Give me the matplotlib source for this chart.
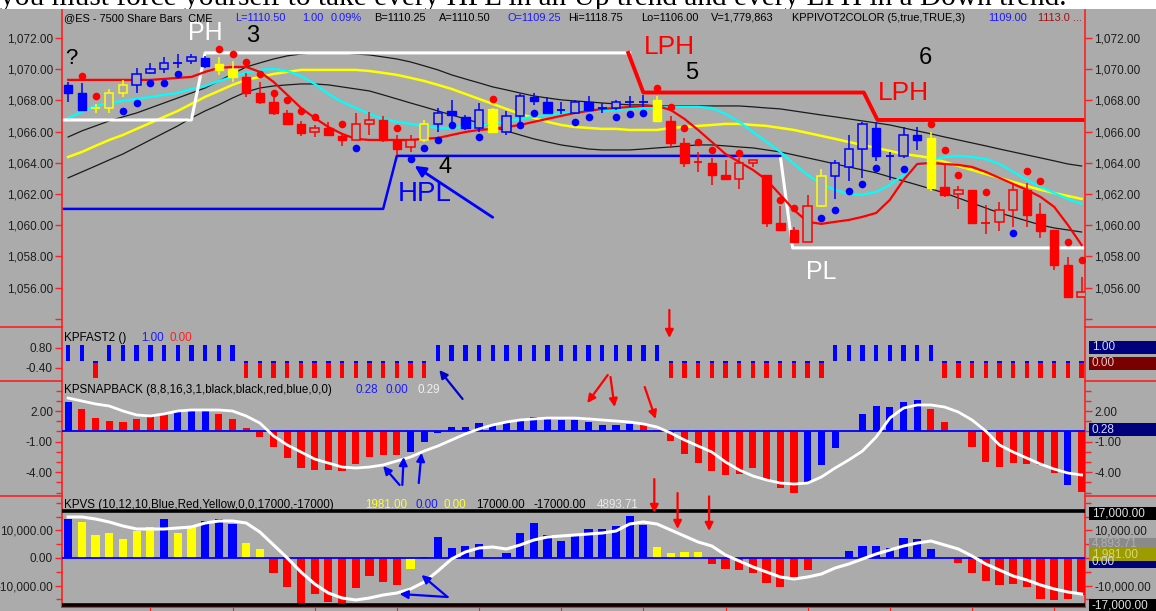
import matplotlib
matplotlib.use("Agg")
import matplotlib.pyplot as plt
import matplotlib.transforms as mtransforms
from matplotlib.patches import Rectangle, ConnectionPatch

plt.rcParams['font.family'] = ['Liberation Sans', 'DejaVu Sans']

# ---------------- data ----------------
bars = list(range(75))

candle_color = list("BBYYYBBBBBBYYRRRRRRRRRRRRRYBBBBYBBBBBBBBBBBYRRRRRRRRRRRYBBBBBBBYRRRRRRRRRRR")
c_open = [1069.0, 1068.5, 1067.5, 1067.5, 1068.5, 1069.0, 1069.75, 1070.0, 1070.4, 1070.5,
          1070.7, 1070.3, 1070.0, 1069.5, 1068.5, 1067.9, 1067.2, 1066.5, 1066.0, 1066.2,
          1065.7, 1065.45, 1066.5, 1066.75, 1065.45, 1065.0, 1065.45, 1066.5, 1067.3, 1066.9,
          1066.2, 1067.45, 1066.0, 1067.0, 1068.2, 1067.9, 1067.4, 1067.2, 1067.9, 1067.5,
          1067.5, 1067.9, 1067.9, 1068.0, 1066.7, 1065.25, 1064.07, 1064.0, 1063.2, 1062.94,
          1064.0, 1063.2, 1060.16, 1059.7, 1058.94, 1061.2, 1063.15, 1063.7, 1064.9, 1066.2,
          1064.4, 1064.4, 1065.8, 1065.6, 1062.47, 1062.0, 1062.26, 1060.16, 1060.2, 1061.0,
          1062.26, 1060.7, 1059.7, 1057.45, 1055.4]
c_high = [1069.2, 1069.1, 1067.75, 1068.7, 1069.3, 1070.1, 1070.4, 1070.8, 1071.0, 1071.0,
          1070.85, 1070.8, 1070.5, 1069.75, 1069.2, 1068.2, 1067.4, 1066.7, 1066.4, 1066.6,
          1065.9, 1067.2, 1067.25, 1067.0, 1065.75, 1065.75, 1066.75, 1067.5, 1068.0, 1067.05,
          1067.8, 1067.5, 1067.3, 1068.4, 1068.5, 1068.2, 1067.9, 1068.0, 1068.25, 1067.8,
          1068.0, 1068.3, 1068.35, 1068.3, 1067.0, 1065.6, 1064.7, 1064.3, 1064.2, 1064.3,
          1064.2, 1063.2, 1061.2, 1059.9, 1061.9, 1063.6, 1064.2, 1065.8, 1066.6, 1066.6,
          1064.7, 1066.3, 1066.3, 1066.0, 1064.0, 1062.5, 1062.26, 1061.3, 1061.5, 1062.7,
          1062.7, 1061.45, 1059.7, 1057.95, 1056.7]
c_low = [1067.9, 1067.35, 1067.2, 1067.2, 1068.2, 1068.5, 1069.7, 1069.75, 1070.1, 1070.3,
         1070.1, 1069.6, 1069.2, 1068.2, 1067.75, 1067.05, 1066.4, 1065.7, 1065.65, 1065.7,
         1065.1, 1065.45, 1065.8, 1065.3, 1064.5, 1064.7, 1065.3, 1066.0, 1066.35, 1066.1,
         1066.0, 1065.9, 1065.8, 1066.6, 1067.7, 1067.1, 1067.1, 1067.1, 1067.3, 1067.2,
         1067.4, 1067.6, 1067.6, 1066.6, 1064.95, 1063.75, 1063.4, 1062.6, 1062.94, 1062.3,
         1063.7, 1059.9, 1059.7, 1058.94, 1058.94, 1061.15, 1061.7, 1062.8, 1063.0, 1064.1,
         1062.9, 1064.3, 1064.8, 1062.2, 1061.8, 1061.05, 1060.16, 1059.4, 1059.6, 1059.9,
         1059.9, 1059.2, 1057.1, 1055.4, 1055.4]
c_close = [1068.5, 1067.4, 1067.5, 1068.5, 1069.0, 1069.7, 1070.0, 1070.4, 1070.4, 1070.75,
           1070.2, 1069.95, 1069.5, 1068.45, 1067.9, 1067.2, 1066.5, 1065.9, 1066.2, 1065.8,
           1065.45, 1066.5, 1066.75, 1065.45, 1064.9, 1065.45, 1066.5, 1067.2, 1067.05, 1066.2,
           1067.4, 1065.95, 1067.0, 1068.3, 1067.95, 1067.2, 1067.4, 1067.9, 1067.4, 1067.5,
           1067.9, 1067.9, 1067.9, 1066.7, 1065.25, 1064.0, 1064.07, 1063.2, 1062.94, 1064.0,
           1064.2, 1060.16, 1059.7, 1058.94, 1061.2, 1063.15, 1064.0, 1064.9, 1066.5, 1064.4,
           1064.4, 1065.8, 1065.45, 1062.4, 1061.94, 1062.26, 1060.16, 1060.16, 1061.0, 1062.26,
           1060.65, 1059.65, 1057.45, 1055.4, 1055.74]

ma_red = [1069.31] * 7 + [1069.37, 1069.44, 1069.50, 1069.82, 1070.08, 1070.14, 1070.14, 1069.82, 1069.18,
          1068.35, 1067.51, 1066.87, 1066.29, 1065.85, 1065.53, 1065.46, 1065.46, 1065.46, 1065.46,
          1065.53, 1065.59, 1065.78, 1065.97, 1066.10, 1066.17, 1066.29, 1066.42, 1066.62, 1066.81,
          1067.00, 1067.19, 1067.32, 1067.45, 1067.51, 1067.58, 1067.64, 1067.64, 1067.38, 1066.81,
          1066.10, 1065.33, 1064.56, 1064.05, 1063.54, 1062.90, 1061.94, 1060.97, 1060.21, 1060.08,
          1060.21, 1060.33, 1060.53, 1060.78, 1061.62, 1062.90, 1063.92, 1063.99, 1063.92, 1063.86,
          1063.73, 1063.41, 1063.03, 1062.64, 1062.26, 1061.81, 1061.17, 1060.01, 1058.73]
ma_cyan = [1066.87, 1067.26, 1067.64, 1067.83, 1067.96, 1068.09, 1068.22, 1068.35, 1068.47, 1068.73,
           1068.92, 1069.24, 1069.50, 1069.76, 1069.95, 1070.01, 1069.88, 1069.56, 1069.05, 1068.41,
           1067.90, 1067.51, 1067.13, 1066.81, 1066.62, 1066.49, 1066.36, 1066.23, 1066.23, 1066.29,
           1066.36, 1066.49, 1066.68, 1066.81, 1066.94, 1067.06, 1067.19, 1067.26, 1067.32, 1067.32,
           1067.38, 1067.45, 1067.51, 1067.51, 1067.58, 1067.58, 1067.58, 1067.51, 1067.13, 1066.62,
           1065.97, 1065.33, 1064.69, 1063.92, 1063.22, 1062.64, 1062.26, 1062.00, 1061.94, 1062.13,
           1062.58, 1063.22, 1063.79, 1064.18, 1064.37, 1064.44, 1064.37, 1064.24, 1063.92, 1063.41,
           1062.90, 1062.45, 1062.06, 1061.68, 1061.36]
ma_yellow = [1064.37, 1064.69, 1065.08, 1065.46, 1065.78, 1066.17, 1066.55, 1066.94, 1067.32, 1067.77,
             1068.22, 1068.60, 1068.99, 1069.31, 1069.50, 1069.69, 1069.82, 1069.95, 1069.95, 1069.95,
             1069.95, 1069.95, 1069.88, 1069.76, 1069.63, 1069.44, 1069.24, 1068.99, 1068.73, 1068.41,
             1068.09, 1067.77, 1067.45, 1067.13, 1066.87, 1066.62, 1066.42, 1066.29, 1066.23, 1066.17,
             1066.17, 1066.10, 1066.10, 1066.10, 1066.23, 1066.29, 1066.36, 1066.42, 1066.49, 1066.49,
             1066.42, 1066.36, 1066.23, 1066.10, 1065.91, 1065.72, 1065.53, 1065.33, 1065.14, 1064.95,
             1064.76, 1064.56, 1064.44, 1064.31, 1064.05, 1063.79, 1063.54, 1063.28, 1063.03, 1062.77,
             1062.51, 1062.26, 1062.06, 1061.87, 1061.68]
band_upper = [1065.65, 1066.04, 1066.36, 1066.68, 1066.94, 1067.19, 1067.51, 1067.83, 1068.15, 1068.47,
              1068.79, 1069.24, 1069.69, 1070.14, 1070.40, 1070.65, 1070.85, 1070.97, 1071.04, 1071.04,
              1071.04, 1070.97, 1070.91, 1070.78, 1070.65, 1070.46, 1070.21, 1069.95, 1069.63, 1069.37,
              1069.12, 1068.86, 1068.67, 1068.47, 1068.28, 1068.15, 1068.03, 1067.96, 1067.90, 1067.83,
              1067.77, 1067.71, 1067.71, 1067.64, 1067.64, 1067.64, 1067.64, 1067.64, 1067.64, 1067.64,
              1067.58, 1067.51, 1067.45, 1067.32, 1067.19, 1067.06, 1066.94, 1066.81, 1066.68, 1066.55,
              1066.42, 1066.23, 1066.04, 1065.85, 1065.65, 1065.46, 1065.27, 1065.08, 1064.88, 1064.69,
              1064.50, 1064.31, 1064.12, 1063.92, 1063.79]
band_lower = [1063.03, 1063.41, 1063.79, 1064.18, 1064.56, 1065.01, 1065.46, 1065.91, 1066.36, 1066.87,
              1067.32, 1067.71, 1068.15, 1068.54, 1068.79, 1068.92, 1068.99, 1069.05, 1069.05, 1068.99,
              1068.86, 1068.73, 1068.60, 1068.35, 1068.09, 1067.83, 1067.58, 1067.32, 1067.06, 1066.81,
              1066.55, 1066.29, 1066.04, 1065.78, 1065.53, 1065.33, 1065.14, 1065.01, 1064.88, 1064.82,
              1064.82, 1064.82, 1064.88, 1064.95, 1065.01, 1065.08, 1065.14, 1065.14, 1065.08, 1065.01,
              1064.95, 1064.82, 1064.69, 1064.50, 1064.31, 1064.12, 1063.92, 1063.73, 1063.54, 1063.35,
              1063.09, 1062.83, 1062.58, 1062.32, 1062.06, 1061.74, 1061.42, 1061.10, 1060.78, 1060.53,
              1060.27, 1060.01, 1059.82, 1059.69, 1059.56]

red_dot_idx = [1, 2, 11, 12, 13, 14, 15, 16, 17, 18, 20, 24, 31, 43, 44, 45, 46, 47, 49, 52, 53,
               63, 64, 65, 67, 70, 71, 73, 74]
red_dot_val = [1069.56, 1068.3, 1071.27, 1071.0, 1070.48, 1069.67, 1068.5, 1068.0, 1067.3, 1066.95,
               1066.5, 1066.25, 1068.07, 1068.78, 1067.56, 1066.25, 1065.35, 1064.8, 1064.65, 1061.6,
               1061.1, 1066.5, 1064.8, 1063.2, 1062.15, 1063.5, 1062.8, 1058.95, 1057.77]
blue_dot_idx = [4, 5, 6, 7, 8, 21, 25, 26, 27, 28, 30, 33, 34, 37, 38, 40, 41, 42, 55, 56, 57, 58,
                59, 61, 69]
blue_dot_val = [1067.3, 1067.85, 1069.1, 1069.1, 1069.7, 1064.93, 1064.22, 1064.93, 1065.46, 1066.42,
                1065.67, 1066.42, 1067.2, 1066.64, 1066.92, 1066.92, 1067.13, 1067.21, 1060.48, 1060.97,
                1062.19, 1062.64, 1063.65, 1063.58, 1059.48]

# pivot step lines: (bar position, level)
ph_pos = [-0.45, 9.0, 10.0, 41.0]
ph_lvl = [1066.74, 1066.74, 1071.04, 1071.04]
lph_pos = [40.9, 42.0, 58.1, 59.1, 74.3]
lph_lvl = [1071.04, 1068.5, 1068.5, 1066.74, 1066.74]
hpl_pos = [-0.45, 23.0, 24.0, 52.0]
hpl_lvl = [1061.04, 1061.04, 1064.44, 1064.44]
pl_pos = [52.0, 52.9, 74.3]
pl_lvl = [1064.44, 1058.54, 1058.54]

fast_color = list("BBRBBBBBBBBBB" + "R" * 14 + "B" * 17 + "R" * 12 + "B" * 8 + "R" * 11)

snap_val = [2.9, 2.17, 1.28, 1.02, 0.95, 1.19, 1.51, 1.83, 2.03, 2.17,
            2.1, 1.7, 1.19, 0.3, -0.52, -1.56, -2.64, -3.62, -3.78, -3.78,
            -3.85, -3.2, -2.48, -2.31, -2.31, -1.99, -1.0, -0.15, 0.4, 0.4,
            0.85, 0.63, 0.85, 1.19, 1.38, 1.28, 1.12, 1.12, 0.95, 0.63,
            0.63, 0.73, 0.73, 0.14, -0.9, -2.2, -3.07, -3.85, -4.27, -4.17,
            -3.62, -4.76, -5.58, -6.0, -5.09, -3.3, -1.63, 0.05, 1.7, 2.5,
            2.36, 2.9, 3.08, 2.17, 0.95, 0.0, -1.56, -2.97, -3.46, -3.07,
            -3.2, -3.3, -4.1, -5.25, -5.9]
snap_color = list("BRRRRRRRBBBRRRRRRRRRRRRRRBBBBBBBBBBBBBBBBBRRRRRRRRRRRRBBBBBBBBBRRRRRRRRRR")
snap_line = [3.27, 2.98, 2.69, 2.49, 2.0, 1.61, 1.51, 1.71, 2.0, 2.1,
             2.1, 2.1, 2.0, 1.51, 0.82, -0.45, -1.33, -2.02, -2.71, -3.1,
             -3.49, -3.59, -3.49, -3.29, -2.9, -2.51, -1.92, -1.43, -0.84, -0.25,
             0.24, 0.63, 0.92, 1.12, 1.22, 1.31, 1.31, 1.31, 1.22, 1.12,
             1.02, 0.92, 0.73, 0.43, -0.16, -0.84, -1.43, -2.02, -3.0, -3.78,
             -4.37, -4.76, -5.06, -5.16, -5.06, -4.47, -3.59, -2.8, -1.92, -0.55,
             1.31, 2.29, 2.59, 2.59, 2.39, 1.9, 1.12, 0.04, -1.33, -2.02,
             -2.61, -3.2, -3.69, -4.08, -4.27]

vs_val = [14180, 12970, 8360, 9200, 6790, 9940, 11150, 14180, 9200, 11150,
          13580, 14180, 12360, 5330, 3270, -5330, -10670, -17700, -13210, -15880,
          -16480, -11030, -6550, -8610, -9820, -4120, 500, 7520, 3760, 4360,
          5090, 300, 1700, 9200, 12850, 8360, 6300, 8000, 10430, 10430,
          11640, 15270, 12000, 4120, 1700, 2060, 2060, -2300, -4000, -4360,
          -5570, -8970, -10420, -7030, -4360, 0, 0, 2545, 4360, 4360,
          3520, 7150, 6790, 3150, 500, -1700, -5330, -8240, -9820, -9450,
          -10670, -14910, -15270, -14910, -13450]
vs_color = list("BYYYYYYBYYBBBYYRRRRRRRRRRYBBBBBYBBBBBBBBBBBYYYYRRRRRRRRBBBBBBBBBYRRRRRRRRRR")
vs_line = [14910, 14910, 14180, 13090, 11640, 10545, 10545, 10545, 10910, 11270,
           12730, 13450, 13450, 12730, 9450, 4730, 0, -5090, -9450, -12730,
           -14545, -15270, -14545, -13450, -12730, -11270, -8730, -4730, -360, 2180,
           3640, 4000, 3270, 4730, 6545, 7640, 8000, 8360, 8730, 9090,
           9820, 12360, 13090, 12360, 10180, 8000, 5820, 4360, 1090, -1090,
           -3270, -5090, -6910, -7640, -6910, -5820, -3640, -2180, -360, 1450,
           2910, 4360, 5450, 6180, 4730, 3270, 727, -2180, -4360, -6545,
           -8000, -9820, -11270, -12360, -13090]

price_ticks = [1054, 1056, 1058, 1060, 1062, 1064, 1066, 1068, 1070, 1072]
fast_ticks = [0.80, -0.40]
snap_ticks = [2.0, -1.0, -4.0]
vs_ticks = [10000, 0, -10000]

# ---------------- layout ----------------
W, H = 1156, 611
BG = '#ababab'
COL = {'B': '#0000ff', 'R': '#ff0000', 'Y': '#ffff00'}
AXC = '#ff2020'
TXT = '#1e1e1e'

fig = plt.figure(figsize=(W / 100, H / 100), dpi=100, facecolor='white')


def fx(px):
    return px / W


def fy(py):
    return 1 - py / H


fig.add_artist(Rectangle((0, 0), 1, fy(8.5), transform=fig.transFigure, fc=BG, ec='none', zorder=-1))
fig.text(fx(0), fy(5.0), "you must force yourself to take every HPL in an Up trend and every LPH in a Down trend.",
         family=['Liberation Serif', 'DejaVu Serif'], fontsize=21.2, va='baseline', ha='left',
         color='black', zorder=-2)

XL, XR = 62, 1085


def make_panel(top, bottom, ylim):
    ax = fig.add_axes([fx(XL), fy(bottom), fx(XR) - fx(XL), fy(top) - fy(bottom)], facecolor='none')
    ax.set_xlim(-0.45, 74.25)
    ax.set_ylim(*ylim)
    for s in ['top', 'bottom']:
        ax.spines[s].set_visible(False)
    for s in ['left', 'right']:
        ax.spines[s].set_color(AXC)
        ax.spines[s].set_linewidth(1.2)
    ax.tick_params(axis='x', bottom=False, labelbottom=False)
    ax.tick_params(axis='y', which='both', left=True, right=True, labelleft=True, labelright=True,
                   direction='out', color=AXC, length=5, width=1, labelsize=8.5, labelcolor=TXT, pad=1.5)
    ax.tick_params(axis='y', which='minor', length=4)
    return ax


axp = make_panel(10, 327, (1053.47, 1073.79))
axf = make_panel(327, 381, (-1.18, 2.06))
axs = make_panel(381, 496, (-6.33, 4.94))
axv = make_panel(496, 607, (-17818, 22545))
axv.spines['bottom'].set_visible(True)
axv.spines['bottom'].set_color(AXC)
axv.spines['bottom'].set_linewidth(1.5)
axv.tick_params(axis='x', bottom=True, direction='out', color=AXC, length=3)
axv.set_xticks([6, 12, 18, 24, 30, 36, 42, 48, 54, 60, 66, 72])

# separators in margins
for py in [327, 381, 496]:
    fig.add_artist(plt.Line2D([0, fx(XL)], [fy(py), fy(py)], color=AXC, lw=1.2, transform=fig.transFigure))
    fig.add_artist(plt.Line2D([fx(XR), 1], [fy(py), fy(py)], color=AXC, lw=1.2, transform=fig.transFigure))

# ---- price panel ----
axp.set_yticks(price_ticks)
axp.set_yticklabels(['' if v == 1054 else f"{v:,.2f}" for v in price_ticks])

axp.plot(bars, band_upper, color='#1a1a1a', lw=0.9, zorder=2)
axp.plot(bars, band_lower, color='#1a1a1a', lw=0.9, zorder=2)
axp.plot(bars, ma_yellow, color='#ffff00', lw=1.8, zorder=2.1)
axp.plot(bars, ma_cyan, color='#00ffff', lw=1.6, zorder=2.2)
axp.plot(ph_pos, ph_lvl, color='white', lw=2.2, zorder=2.3)
axp.plot(pl_pos, pl_lvl, color='white', lw=2.2, zorder=2.3)
axp.plot(hpl_pos, hpl_lvl, color='#0000ff', lw=1.8, zorder=2.3)
axp.plot(lph_pos, lph_lvl, color='#ff0000', lw=2.8, zorder=2.3)
axp.plot(bars, ma_red, color='#ff0000', lw=1.6, zorder=2.4)

bw = 0.62
for i in bars:
    o, h, l, c = c_open[i], c_high[i], c_low[i], c_close[i]
    col = COL[candle_color[i]]
    axp.vlines(i, l, h, color=col, lw=1.1, zorder=3)
    if abs(c - o) < 0.05:
        axp.hlines(o, i - bw / 2, i + bw / 2, color=col, lw=1.3, zorder=4)
    elif c < o:
        axp.add_patch(Rectangle((i - bw / 2, c), bw, o - c, fc=col, ec=col, lw=1, zorder=4))
    else:
        axp.add_patch(Rectangle((i - bw / 2, o), bw, c - o, fc=BG, ec=col, lw=1.1, zorder=4))

axp.plot(red_dot_idx, red_dot_val, 'o', color='#ff0000', ms=5.5, mec='none', zorder=5)
axp.plot(blue_dot_idx, blue_dot_val, 'o', color='#0000ff', ms=5.5, mec='none', zorder=5)

big = dict(ha='center', va='center', zorder=6)
axp.text(0.2, 1070.7, "?", fontsize=16, color='black', **big)
axp.text(10.0, 1072.3, "PH", fontsize=18, color='white', **big)
axp.text(13.5, 1072.1, "3", fontsize=17, color='black', **big)
axp.text(43.9, 1071.4, "LPH", fontsize=19, color='#ff0000', **big)
axp.text(45.5, 1069.75, "5", fontsize=17, color='black', **big)
axp.text(62.6, 1070.7, "6", fontsize=17, color='black', **big)
axp.text(61.0, 1068.45, "LPH", fontsize=19, color='#ff0000', **big)
axp.text(27.5, 1063.7, "4", fontsize=17, color='black', **big)
axp.text(26.0, 1062.0, "HPL", fontsize=20, color='#0000ff', **big)
axp.text(55.0, 1057.0, "PL", fontsize=18, color='white', **big)

# ---- KPFAST2 ----
axf.set_yticks(fast_ticks)
axf.set_yticklabels([f"{v:.2f}" for v in fast_ticks])
axf.tick_params(axis='y', right=False, labelright=False)
for i in bars:
    if fast_color[i] == 'B':
        axf.bar(i, 1.0, width=0.32, color='#0000ff', zorder=3)
    else:
        axf.bar(i, -1.0, width=0.32, color='#ff0000', zorder=3)
        axf.bar(i, -0.07, width=0.32, color='#0000ff', zorder=4)

# ---- KPSNAPBACK ----
axs.set_yticks(snap_ticks)
axs.set_yticklabels([f"{v:.2f}" for v in snap_ticks])
axs.set_yticks([4, 3, 1, 0, -2, -3, -5, -6], minor=True)
axs.bar(bars, snap_val, width=0.52, color=[COL[c] for c in snap_color], zorder=3)
axs.axhline(0, color='#0000ff', lw=1.3, zorder=4)
axs.plot(bars, snap_line, color='white', lw=2.0, zorder=5)

# ---- KPVS ----
axv.set_yticks(vs_ticks)
axv.set_yticklabels([f"{v:,.2f}" for v in vs_ticks])
axv.set_yticks([20000, 15000, 5000, -5000, -15000], minor=True)
axv.bar(bars, vs_val, width=0.6, color=[COL[c] for c in vs_color], zorder=3)
axv.axhline(0, color='#0000ff', lw=1.3, zorder=4)
axv.axhline(17000, color='black', lw=2.6, zorder=4)
axv.axhline(-17000, color='black', lw=2.6, zorder=4)
axv.plot(bars, vs_line, color='white', lw=2.2, zorder=5)

# ---- header texts ----
HB = '#1a1aff'


def header(py, pieces, size):
    for px, s, c in pieces:
        fig.text(fx(px), fy(py), s, color=c, fontsize=size, va='center', ha='left')


header(18, [(64, "@ES - 7500 Share Bars  CME", 'black'), (235, "L=1110.50", HB), (302, "1.00", HB),
            (331, "0.09%", HB), (374, "B=1110.25", 'black'), (439, "A=1110.50", 'black'),
            (507, "O=1109.25", HB), (568, "Hi=1118.75", 'black'), (641, "Lo=1106.00", 'black'),
            (711, "V=1,779,863", 'black'), (792, "KPPIVOT2COLOR (5,true,TRUE,3)", 'black'),
            (988, "1109.00", HB), (1038, "1113.0 ...", '#a01010')], 7.9)
header(338, [(64, "KPFAST2 ()", 'black'), (141, "1.00", HB), (170, "0.00", '#ff2020')], 8.4)
header(390, [(64, "KPSNAPBACK (8,8,16,3,1,black,black,red,blue,0,0)", 'black'), (356, "0.28", HB),
             (386, "0.00", HB), (417, "0.29", '#f0f0f0')], 8.4)
header(505, [(64, "KPVS (10,12,10,Blue,Red,Yellow,0,0,17000,-17000)", 'black'), (365, "1981.00", '#ffff30'),
             (415, "0.00", HB), (444, "0.00", '#ffff30'), (476, "17000.00", 'black'),
             (533, "-17000.00", 'black'), (597, "4893.71", '#e8e8e8')], 8.4)


# ---- right value boxes ----
def vbox(ax, val, label, fc, tc, hpx=13):
    tr = mtransforms.blended_transform_factory(fig.transFigure, ax.transData)
    y0, y1 = ax.get_ylim()
    bb = ax.get_position()
    units_per_px = (y1 - y0) / (bb.height * H)
    h = hpx * units_per_px
    ax.add_patch(Rectangle((fx(1089), val - h / 2), 1 - fx(1089), h, transform=tr, fc=fc, ec='none',
                           clip_on=False, zorder=10))
    ax.text(fx(1092), val, label, transform=tr, color=tc, fontsize=8.5, va='center', ha='left',
            clip_on=False, zorder=11)


vbox(axf, 0.86, "1.00", '#00007a', '#d8d8ff')
vbox(axf, -0.1, "0.00", '#7a0000', '#e8c8c8')
vbox(axs, 0.14, "0.28", '#00007a', '#d8d8ff')
vbox(axv, 16360, "17,000.00", 'black', '#e0e0e0')
vbox(axv, 5100, "4,893.71", '#8a8a8a', '#b0b0b0', hpx=12)
vbox(axv, -1500, "0.00", '#00007a', '#d8d8ff', hpx=12)
vbox(axv, 1450, "1,981.00", '#9c9c00', '#d8d870', hpx=13)
vbox(axv, -17450, "-17,000.00", 'black', '#e0e0e0')


# ---- arrows ----
def arrow(a_ax, a, b_ax, b, color, lw=1.6, ms=12):
    cp = ConnectionPatch(xyA=a, coordsA=a_ax.transData, xyB=b, coordsB=b_ax.transData,
                         arrowstyle='-|>', mutation_scale=ms, color=color, lw=lw, zorder=20)
    fig.add_artist(cp)


arrow(axp, (31.0, 1060.5), axp, (25.3, 1063.8), '#0000ff', lw=2.0, ms=16)
arrow(axp, (43.9, 1054.56), axf, (43.9, 1.4), '#ff0000')
arrow(axs, (28.8, 3.18), axf, (27.1, -0.52), '#0000cc')
arrow(axf, (39.4, -0.82), axs, (37.9, 2.78), '#ff0000')
arrow(axf, (39.6, -0.94), axs, (39.9, 2.39), '#ff0000')
arrow(axs, (42.1, 4.35), axs, (42.9, 1.22), '#ff0000')
arrow(axs, (24.2, -5.25), axs, (23.0, -3.39), '#0000ff')
arrow(axs, (24.4, -5.25), axs, (24.5, -2.51), '#0000ff')
arrow(axs, (25.6, -5.06), axs, (25.8, -2.1), '#0000ff')
arrow(axv, (27.7, -14180), axv, (25.8, -6180), '#0000ff')
arrow(axv, (27.7, -14180), axv, (24.2, -13090), '#0000ff')
arrow(axs, (42.8, -4.67), axv, (42.8, 16360), '#ff0000')
arrow(axs, (44.5, -6.04), axv, (44.5, 10545), '#ff0000')
arrow(axv, (46.8, 22400), axv, (46.8, 9818), '#ff0000')

fig.savefig("out.png", dpi=100, facecolor=fig.get_facecolor())
